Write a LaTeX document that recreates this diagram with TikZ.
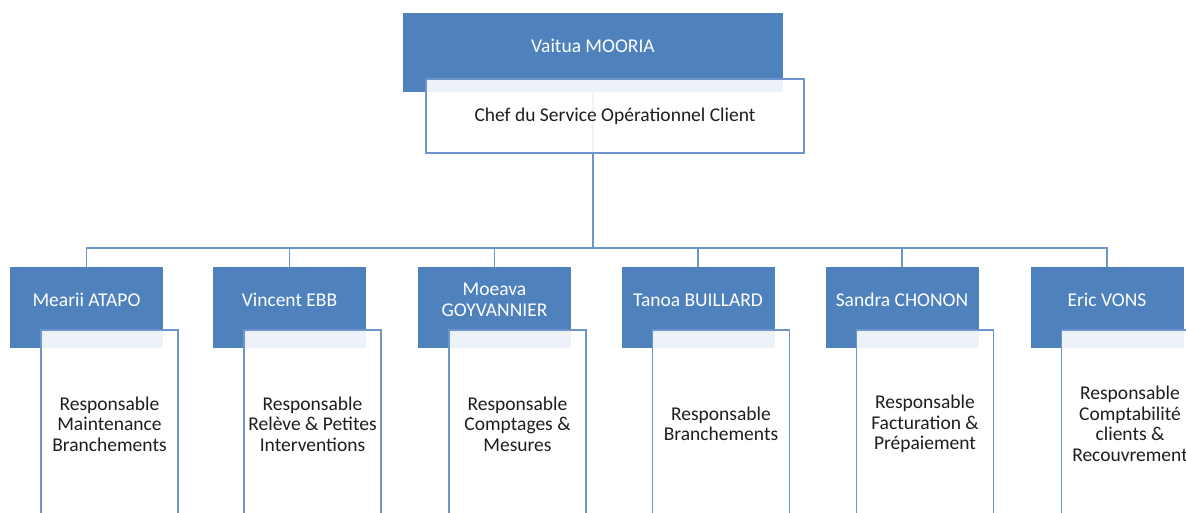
\documentclass[tikz,border=0pt]{standalone}
\usepackage{fontspec}
\setmainfont{Carlito}
\definecolor{boxblue}{RGB}{79,129,189}
\definecolor{edgeblue}{RGB}{110,148,204}
\definecolor{ink}{RGB}{30,30,30}
\begin{document}
\begin{tikzpicture}[x=1pt,y=1pt,
  every node/.style={font=\fontsize{19.5}{20.5}\selectfont},
  namebox/.style={rectangle,fill=boxblue,draw=none,minimum width=#1,inner sep=0pt},
  rolebox/.style={rectangle,draw=edgeblue,line width=1.1pt,fill=white,fill opacity=0.9,draw opacity=1,inner sep=0pt},
  nametext/.style={text=white,align=center,inner sep=0pt},
  roletext/.style={text=ink,align=center,inner sep=0pt},
  link/.style={draw=edgeblue,line width=1.1pt}]
\clip (0,0) rectangle (1186,513);
\fill[white] (0,0) rectangle (1186,513);

% head of the service
\node[namebox=380pt,minimum height=79pt] (b0) at (593,460.5) {};
\coordinate (bus) at (593,265);

% the six team leaders
\foreach \i/\x in {1/86.5,2/289.5,3/494.5,4/698,5/902,6/1107}{
  \node[namebox=153pt,minimum height=81pt] (c\i) at (\x,205.5) {};
}

% reporting lines
\draw[link] (b0.south) -- (bus);
\foreach \i in {1,...,6}{
  \draw[link] (c\i.north) |- (bus);
}

% role boxes
\node[rolebox,minimum width=378pt,minimum height=74pt] (r0) at (615,397) {};
\foreach \i/\x in {1/109.5,2/312.5,3/517.5,4/721,5/925,6/1130}{
  \node[rolebox,minimum width=137pt,minimum height=190pt] (r\i) at (\x,88) {};
}

% texts
\node[nametext] (n0) at (593,467) {Vaitua MOORIA};
\node[roletext] (t0) at (615,397) {Chef du Service Opérationnel Client};

\node[nametext] (n1) at (86.5,213) {Mearii ATAPO};
\node[nametext] (n2) at (289.5,213) {Vincent EBB};
\node[nametext] (n3) at (494.5,213) {Moeava\\GOYVANNIER};
\node[nametext] (n4) at (698,213) {Tanoa BUILLARD};
\node[nametext] (n5) at (902,213) {Sandra CHONON};
\node[nametext] (n6) at (1107,213) {Eric VONS};

\node[roletext] (t1) at (109.5,89) {Responsable\\Maintenance\\Branchements};
\node[roletext] (t2) at (312.5,89) {Responsable\\Relève \& Petites\\Interventions};
\node[roletext] (t3) at (517.5,89) {Responsable\\Comptages \&\\Mesures};
\node[roletext] (t4) at (721,89) {Responsable\\Branchements};
\node[roletext] (t5) at (925,89) {Responsable\\Facturation \&\\Prépaiement};
\node[roletext] (t6) at (1130,89) {Responsable\\Comptabilité\\clients \&\\Recouvrement};
\end{tikzpicture}
\end{document}
